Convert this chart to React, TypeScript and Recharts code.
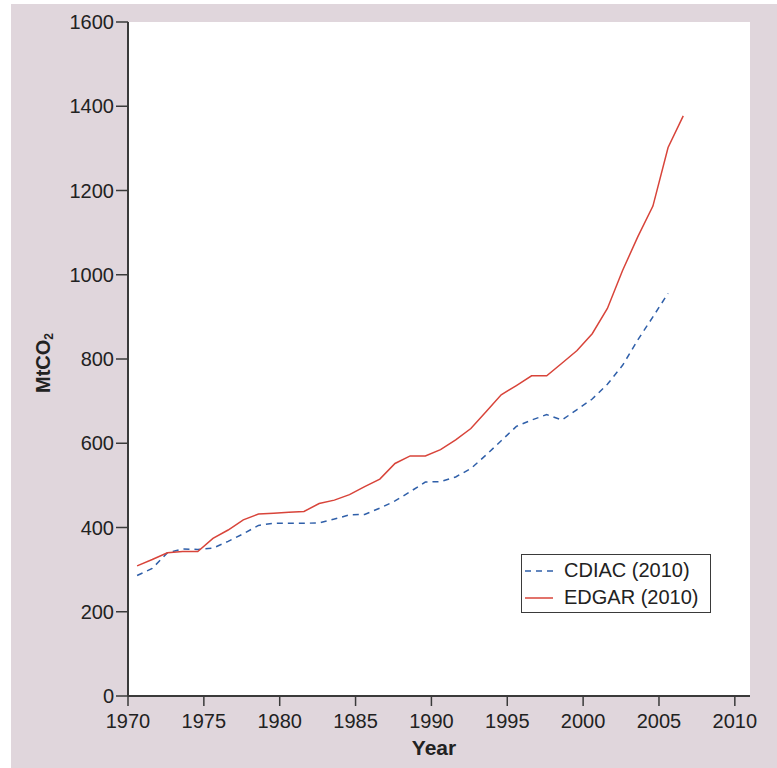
import { LineChart, Line, XAxis, YAxis, CartesianGrid, Legend } from 'recharts';

// Annual emissions, MtCO2
const years = [
  1971, 1972, 1973, 1974, 1975, 1976, 1977, 1978, 1979, 1980,
  1981, 1982, 1983, 1984, 1985, 1986, 1987, 1988, 1989, 1990,
  1991, 1992, 1993, 1994, 1995, 1996, 1997, 1998, 1999, 2000,
  2001, 2002, 2003, 2004, 2005, 2006, 2007,
];
const cdiac = [
  286, 303, 340, 349, 348, 351, 367, 385, 405, 410,
  410, 410, 411, 420, 430, 431, 446, 463, 485, 508,
  509, 520, 540, 572, 606, 640, 655, 668, 655, 680,
  705, 740, 785, 845, 900, 956,
];
const edgar = [
  309, 324, 340, 343, 343, 374, 394, 418, 432, 434,
  436, 438, 457, 465, 478, 497, 515, 552, 570, 570,
  585, 608, 635, 675, 715, 737, 760, 760, 790, 820,
  860, 920, 1010, 1090, 1163, 1302, 1377,
];
const xTicks = [1970, 1975, 1980, 1985, 1990, 1995, 2000, 2005, 2010];
const yTicks = [0, 200, 400, 600, 800, 1000, 1200, 1400, 1600];

// source plots each annual value slightly before the year mark
const YEAR_OFFSET = 0.4;

const data = years.map((year, i) => ({ year, cdiac: cdiac[i], edgar: edgar[i] }));

const FONT = '"Liberation Sans", Arial, Helvetica, sans-serif';
const BLUE = '#2f5fa9';
const RED = '#d8443a';
const AXIS = '#3a3a3a';

function YLabel({ viewBox }: any) {
  const cx = viewBox.x + 27;
  const cy = viewBox.y + viewBox.height / 2 + 4;
  return (
    <text
      x={cx}
      y={cy}
      transform={`rotate(-90 ${cx} ${cy})`}
      textAnchor="middle"
      dominantBaseline="central"
      fontFamily={FONT}
      fontWeight="bold"
      fontSize={20}
      fill="#222"
    >
      MtCO
      <tspan fontSize={12} dy={6}>2</tspan>
    </text>
  );
}

function XLabel({ viewBox }: any) {
  return (
    <text
      x={viewBox.x + viewBox.width / 2 - 5}
      y={viewBox.y + 51}
      textAnchor="middle"
      dominantBaseline="central"
      fontFamily={FONT}
      fontWeight="bold"
      fontSize={21}
      fill="#222"
    >
      Year
    </text>
  );
}

function LegendBox() {
  const row = (label: string, color: string, dash?: string) => (
    <div style={{ display: 'flex', alignItems: 'center', height: 27 }}>
      <svg width={36} height={10} style={{ marginRight: 6 }}>
        <line x1={3} y1={5} x2={31} y2={5} stroke={color} strokeWidth={1.5} strokeDasharray={dash} />
      </svg>
      <span>{label}</span>
    </div>
  );
  return (
    <div
      style={{
        border: `1.5px solid ${AXIS}`,
        background: '#fff',
        width: 188,
        height: 55,
        boxSizing: 'content-box',
        fontFamily: FONT,
        fontSize: 20,
        color: '#222',
        paddingTop: 2,
        lineHeight: '27px',
      }}
    >
      {row('CDIAC (2010)', BLUE, '6 5')}
      {row('EDGAR (2010)', RED)}
    </div>
  );
}

export default function App() {
  return (
    <div
      style={{
        position: 'absolute',
        left: 11,
        top: 4,
        width: 766,
        height: 764,
        background: '#e0d6dc',
      }}
    >
      <LineChart width={766} height={764} data={data} margin={{ top: 18, right: 27, left: 5, bottom: 0 }}>
        <CartesianGrid fill="#fff" horizontal={false} vertical={false} />
        <XAxis
          type="number"
          dataKey={(d: any) => d.year - YEAR_OFFSET}
          domain={[1970, 2011]}
          ticks={xTicks}
          allowDataOverflow
          height={72}
          tickSize={10}
          tickMargin={8}
          tick={{ fontFamily: FONT, fontSize: 20, fill: '#222' }}
          axisLine={{ stroke: AXIS, strokeWidth: 2 }}
          tickLine={{ stroke: AXIS, strokeWidth: 1.5 }}
          label={<XLabel />}
        />
        <YAxis
          type="number"
          domain={[0, 1600]}
          ticks={yTicks}
          width={112}
          tickSize={12}
          tickMargin={2}
          tick={{ fontFamily: FONT, fontSize: 20, fill: '#222' }}
          axisLine={{ stroke: AXIS, strokeWidth: 2 }}
          tickLine={{ stroke: AXIS, strokeWidth: 1.5 }}
          label={<YLabel />}
        />
        <Legend
          layout="horizontal"
          verticalAlign="middle"
          align="center"
          content={<LegendBox />}
          wrapperStyle={{ position: 'absolute', left: 510, top: 550, width: 'auto', bottom: 'auto' }}
        />
        <Line
          dataKey="cdiac"
          name="CDIAC (2010)"
          stroke={BLUE}
          strokeWidth={1.5}
          strokeDasharray="6 5"
          dot={false}
          isAnimationActive={false}
        />
        <Line
          dataKey="edgar"
          name="EDGAR (2010)"
          stroke={RED}
          strokeWidth={1.5}
          dot={false}
          isAnimationActive={false}
        />
      </LineChart>
    </div>
  );
}
